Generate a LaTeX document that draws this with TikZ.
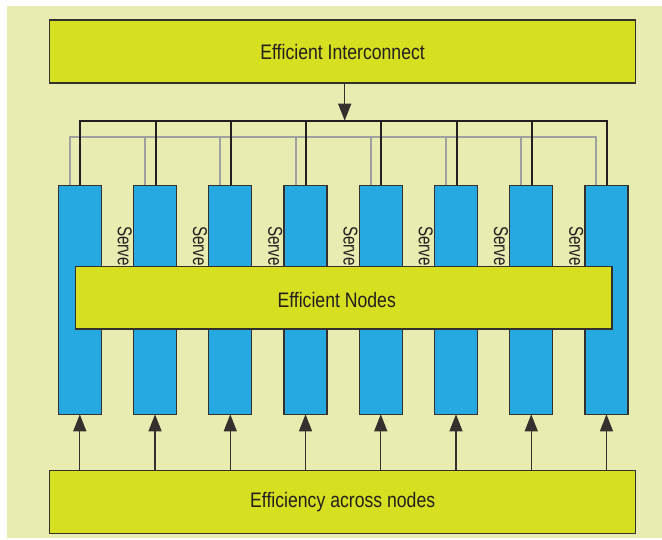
\documentclass[tikz,border=0pt]{standalone}
\usepackage{fontspec}
\setmainfont{Liberation Sans}[FakeStretch=0.84]
\newfontfamily\srvfont{Liberation Sans}[FakeStretch=0.76]
\usetikzlibrary{arrows.meta}
\definecolor{bgc}{RGB}{233,236,176}
\definecolor{ylw}{RGB}{215,223,33}
\definecolor{blu}{RGB}{38,169,224}
\definecolor{edgec}{RGB}{51,48,45}
\definecolor{busc}{RGB}{35,31,32}
\definecolor{gbus}{RGB}{160,160,160}
\definecolor{txtc}{RGB}{35,31,32}
\begin{document}
\begin{tikzpicture}[x=1pt,y=-1pt,
  ybox/.style={draw=edgec, line width=1.3pt, fill=ylw, inner sep=0pt, outer sep=0pt,
    minimum width=#1, minimum height=63pt},
  srvbox/.style={draw=edgec, line width=1.2pt, fill=blu, inner sep=0pt, outer sep=0pt,
    minimum width=43pt, minimum height=228.6pt},
  lbl/.style={font=\fontsize{21}{25}\selectfont, text=txtc, inner sep=0pt},
  srvlbl/.style={font=\srvfont\fontsize{20}{24}\selectfont, text=txtc, rotate=-90,
    anchor=base west, inner sep=0pt},
  blk/.style={draw=busc, line width=2pt},
  gry/.style={draw=gbus, line width=2pt},
  arr/.style={draw=edgec, line width=1.3pt, -{Triangle[length=17pt,width=13pt]}}
]
\useasboundingbox (0,0) rectangle (662,539);
\fill[bgc] (7,6) rectangle (662,538);

% rotated Server labels (behind the boxes)
\foreach \i in {2,...,8} {
  \pgfmathsetmacro\lx{79.8+75.24*(\i-1)-37.1}
  \node[srvlbl] (lab\i) at (\lx,226) {Server};
}

% server box positions
\foreach \i in {1,...,8} {
  \pgfmathsetmacro\cx{79.8+75.24*(\i-1)}
  \coordinate (pos\i) at (\cx,300);
}

% top and bottom boxes
\node[ybox=586.2pt] (inter) at (342.6,51.5) {};
\node[lbl] (interlbl) at (342.6,51.5) {Efficient Interconnect};
\node[ybox=585.8pt] (eff) at (342.7,502.2) {};
\node[lbl] (efflbl) at (342.7,502.2) {Efficiency across nodes};

% bus reference coordinates
\coordinate (bl) at (0,120.7);
\coordinate (gl) at (0,136.7);

% blue server boxes
\foreach \i in {1,...,8} {
  \node[srvbox] (srv\i) at (pos\i) {};
  \coordinate (g\i) at ([xshift=-10pt]srv\i.north);
  \coordinate (k\i) at ([xshift=0.5pt]srv\i.north);
}

% gray bus
\draw[gry] (g1) -- (g1 |- gl) -- (g8 |- gl) -- (g8);
\foreach \i in {2,...,7} { \draw[gry] (g\i) -- (g\i |- gl); }

% black bus
\draw[blk] (k1) -- (k1 |- bl) -- (k8 |- bl) -- (k8);
\foreach \i in {2,...,7} { \draw[blk] (k\i) -- (k\i |- bl); }

% redraw box tops cleanly
\foreach \i in {1,...,8} {
  \draw[draw=edgec, line width=1.2pt] (srv\i.north west) -- (srv\i.north east);
}

% efficient nodes box
\node[draw=edgec, line width=1.3pt, fill=ylw, inner sep=0pt, outer sep=0pt,
  minimum width=536.3pt, minimum height=62.3pt] (nodesbox) at (343.85,297.85) {};
\node[lbl] (nodeslbl) at (336.7,299.5) {Efficient Nodes};

% arrows
\coordinate (topsrc) at ([xshift=2.1pt]inter.south);
\draw[arr] (topsrc) -- (topsrc |- bl);
\foreach \i in {1,...,8} {
  \draw[arr] (srv\i.south |- eff.north) -- (srv\i.south);
}
\end{tikzpicture}
\end{document}
